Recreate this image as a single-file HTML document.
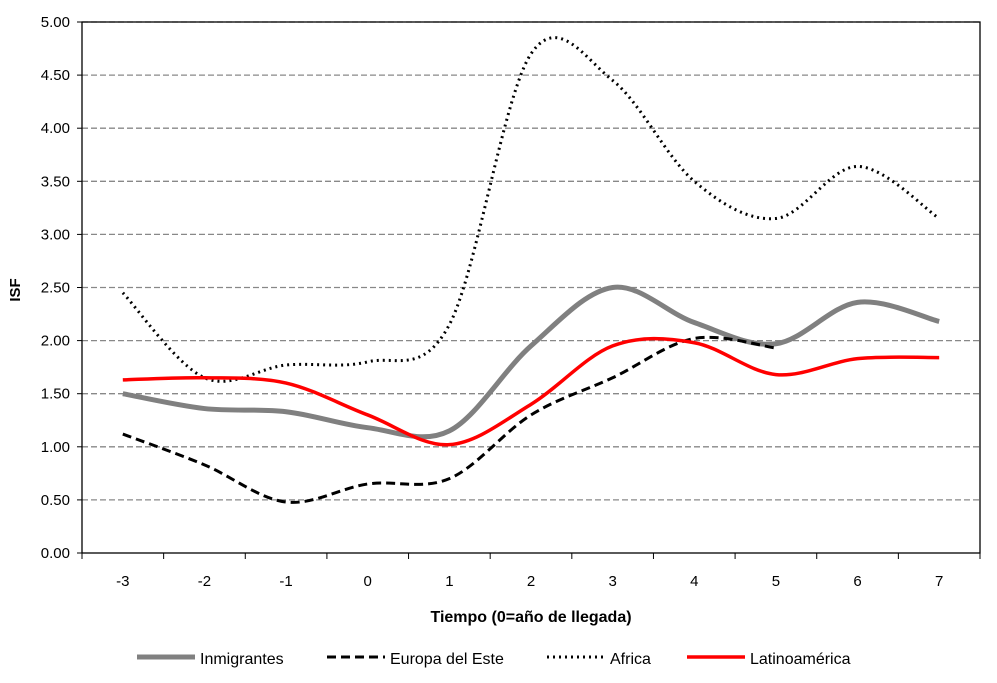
<!DOCTYPE html>
<html><head><meta charset="utf-8"><style>
body{margin:0;background:#fff;}
svg text{font-family:"Liberation Sans",sans-serif;}
</style></head><body>
<svg width="997" height="678" xmlns="http://www.w3.org/2000/svg">
<g id="grid"></g><g id="axes"></g><g id="series"></g><g id="legend"></g>
<text x="20" y="290" transform="rotate(-90 20 290)" text-anchor="middle" font-size="15" font-weight="bold">ISF</text>
<text x="531" y="622" text-anchor="middle" font-size="16" font-weight="bold">Tiempo (0=año de llegada)</text>
</svg>
<script>
const categories=[-3,-2,-1,0,1,2,3,4,5,6,7];
const yTicks=[0,0.5,1,1.5,2,2.5,3,3.5,4,4.5,5];
const inmigrantes=[1.50,1.36,1.33,1.18,1.15,1.95,2.50,2.17,1.97,2.36,2.18];
const europa=[1.12,0.83,0.48,0.65,0.70,1.30,1.65,2.02,1.93];
const africa=[2.45,1.65,1.77,1.80,2.15,4.70,4.45,3.50,3.15,3.64,3.15];
const latino=[1.63,1.65,1.60,1.30,1.02,1.40,1.95,1.98,1.68,1.83,1.84];
const NS='http://www.w3.org/2000/svg';
const L=82,R=980,T=22,B=553;
const step=(R-L)/categories.length;
const xs=i=>L+step*(i+0.5);
const ys=v=>B-(v/5)*(B-T);
function mk(tag,attrs,parent){const e=document.createElementNS(NS,tag);for(const k in attrs)e.setAttribute(k,attrs[k]);parent.appendChild(e);return e;}
const grid=document.getElementById('grid'),axes=document.getElementById('axes'),ser=document.getElementById('series'),leg=document.getElementById('legend');
yTicks.forEach(v=>{
 if(v>0){const g=mk('line',{x1:L,x2:R,y1:ys(v),y2:ys(v),stroke:'#888','stroke-width':1.3,'stroke-dasharray':'6,3'},grid);
 
 }
 const t=mk('text',{x:L-12,y:ys(v)+5,'text-anchor':'end','font-size':15},axes);t.textContent=v.toFixed(2);
 
 
 mk('line',{x1:L-5,x2:L,y1:ys(v),y2:ys(v),stroke:'#000'},axes);
});
mk('rect',{x:L,y:T,width:R-L,height:B-T,fill:'none',stroke:'#000','stroke-width':1.3},axes);
categories.forEach((c,i)=>{
 const t=mk('text',{x:xs(i),y:B+33,'text-anchor':'middle','font-size':15},axes);t.textContent=c;
 
 
});
for(let i=0;i<=categories.length;i++)mk('line',{x1:L+step*i,x2:L+step*i,y1:B,y2:B+6,stroke:'#000'},axes);
function path(vals){
 const p=vals.map((v,i)=>[xs(i),ys(v)]);
 let d='M'+p[0][0]+','+p[0][1];
 for(let i=0;i<p.length-1;i++){
  const p0=p[Math.max(0,i-1)],p1=p[i],p2=p[i+1],p3=p[Math.min(p.length-1,i+2)];
  const c1=[p1[0]+(p2[0]-p0[0])/6,p1[1]+(p2[1]-p0[1])/6],c2=[p2[0]-(p3[0]-p1[0])/6,p2[1]-(p3[1]-p1[1])/6];
  d+=' C'+c1+' '+c2+' '+p2;
 }
 return d;
}
const styles=[
 {vals:inmigrantes,stroke:'#808080',w:5,dash:'',name:'Inmigrantes',key:'inmigrantes'},
 {vals:europa,stroke:'#000',w:3,dash:'9,5',name:'Europa del Este',key:'europa-del-este'},
 {vals:africa,stroke:'#000',w:3,dash:'2,4',name:'Africa',key:'africa'},
 {vals:latino,stroke:'#ff0000',w:3.5,dash:'',name:'Latinoamérica',key:'latinoamerica'}
];
styles.forEach(s=>{
 const e=mk('path',{d:path(s.vals),fill:'none',stroke:s.stroke,'stroke-width':s.w,'stroke-dasharray':s.dash},ser);
 
 
});
const lx=[137,327,547,687];
styles.forEach((s,i)=>{
 const g=mk('g',{},leg);
 
 
 mk('line',{x1:lx[i],x2:lx[i]+58,y1:657,y2:657,stroke:s.stroke,'stroke-width':s.w,'stroke-dasharray':s.dash},g);
 const t=mk('text',{x:lx[i]+63,y:664,'font-size':16},g);t.textContent=s.name;
});
</script>
</body></html>
